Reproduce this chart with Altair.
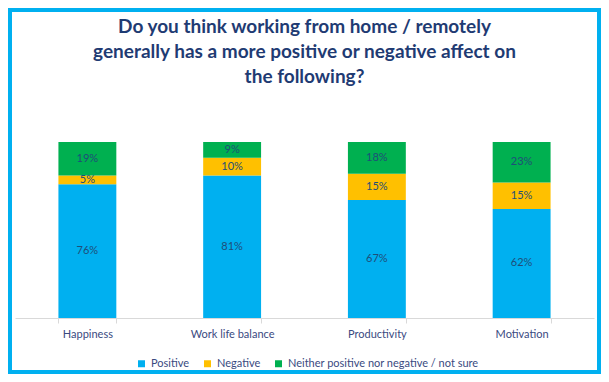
import altair as alt
import pandas as pd

categories = ["Happiness", "Work life balance", "Productivity", "Motivation"]
series = ["Positive", "Negative", "Neither positive nor negative / not sure"]
positive = [76, 81, 67, 62]
negative = [5, 10, 15, 15]
neither = [19, 9, 18, 23]
colors = ["#00B0F0", "#FFC000", "#00B050"]
title_lines = [
    "Do you think working from home / remotely",
    "generally has a more positive or negative affect on",
    "the following?",
]

rows = []
for i, c in enumerate(categories):
    for k, (s, vals) in enumerate(zip(series, [positive, negative, neither])):
        rows.append({"cat": c, "series": s, "order": k, "value": vals[i], "label": f"{vals[i]}%"})
df = pd.DataFrame(rows)

W, H = 579, 176
FONT = "Lato"
TXT = "#3A4A7F"

base = alt.Chart(df).transform_stack(
    stack="value", as_=["y0", "y1"], groupby=["cat"], sort=[alt.SortField("order")]
).transform_calculate(mid="(datum.y0 + datum.y1) / 2")

xenc = alt.X(
    "cat:N",
    sort=categories,
    scale=alt.Scale(paddingInner=0.6, paddingOuter=0.3),
    axis=alt.Axis(
        title=None, labelAngle=0, tickBand="extent", domainColor="#D9D9D9",
        tickColor="#D9D9D9", tickSize=5, labelColor=TXT, labelFont=FONT,
        labelFontSize=11, labelPadding=5,
    ),
)
yscale = alt.Scale(domain=[0, 100])

bars = base.mark_bar().encode(
    x=xenc,
    y=alt.Y("y0:Q", scale=yscale, axis=None),
    y2="y1:Q",
    color=alt.Color(
        "series:N",
        scale=alt.Scale(domain=series, range=colors),
        legend=alt.Legend(
            title=None, orient="none", direction="horizontal", legendX=121, legendY=216,
            symbolType="square", symbolSize=49, symbolStrokeWidth=0, labelLimit=400,
            labelFont=FONT, labelFontSize=11, labelColor=TXT, columnPadding=12,
            symbolOffset=0,
        ),
    ),
)

labels = base.mark_text(font=FONT, fontSize=11, color="#1F4E79").encode(
    x=alt.X("cat:N", sort=categories),
    y=alt.Y("mid:Q", scale=yscale),
    text="label:N",
)

border = alt.Chart(pd.DataFrame({"a": [0]})).mark_rect(
    fillOpacity=0, stroke="#00B0F0", strokeWidth=4
).encode(
    x=alt.value(-5), x2=alt.value(W + 5), y=alt.value(-132), y2=alt.value(H + 54)
)

chart = alt.layer(bars, labels, border).properties(
    width=W,
    height=H,
    title=alt.TitleParams(
        text=title_lines, font=FONT, fontSize=19, fontWeight="bold", color="#1F3B73",
        lineHeight=25, anchor="middle", offset=-79,
    ),
    autosize=alt.AutoSizeParams(type="none"),
    padding={"left": 7, "top": 134, "right": 7, "bottom": 56},
).configure_view(stroke="transparent")

chart.save("out.html", embed_options={"renderer": "svg", "actions": False})
